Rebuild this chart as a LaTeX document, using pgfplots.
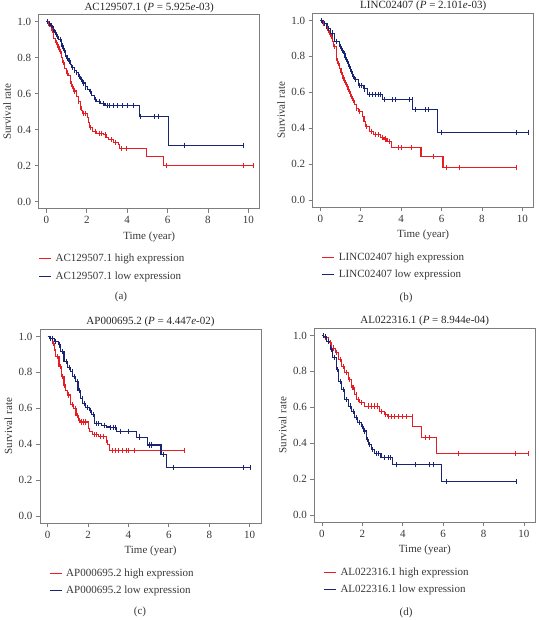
\documentclass[border=0pt]{standalone}
\usepackage{fontspec}
\setmainfont{Liberation Serif}
\usepackage{pgfplots}
\pgfplotsset{compat=1.18}
\definecolor{kmred}{RGB}{230,30,36}
\definecolor{kmblue}{RGB}{26,36,116}
\definecolor{frame}{RGB}{125,125,125}
\definecolor{txt}{RGB}{55,55,55}
\newcommand{\fsz}{\fontsize{11bp}{13bp}\selectfont}
\pgfplotsset{
  kmaxis/.style={
    scale only axis, width=221bp, height=194bp,
    xmin=-0.38, xmax=10.56, ymin=-0.04, ymax=1.04,
    xtick={0,2,4,6,8,10}, ytick={0,0.2,0.4,0.6,0.8,1.0},
    yticklabel style={/pgf/number format/fixed, /pgf/number format/precision=1, /pgf/number format/fixed zerofill},
    /pgf/number format/assume math mode=true,
    tick align=outside, xtick pos=bottom, ytick pos=left,
    major tick length=4bp,
    axis line style={frame, line width=0.8bp},
    every tick/.style={frame, line width=0.8bp},
    tick label style={font=\fsz, text=txt},
    label style={font=\fsz, text=txt},
    xlabel={Time (year)}, ylabel={Survival rate},
    xlabel style={at={(axis description cs:0.5,0)}, anchor=base, yshift=-30.5bp},
    ylabel style={at={(axis description cs:-0.143,0.5)}, anchor=center, rotate=0},
    every axis title/.style={font=\fsz, text=black!85, at={(axis description cs:0.5,1)}, anchor=base, yshift=4.5bp},
    legend style={draw=none, fill=none, font=\fsz, text=txt, anchor=north west, inner xsep=0pt, inner ysep=0pt, row sep=5.5bp,
      nodes={inner xsep=4bp, inner ysep=1.5bp}},
    legend cell align=left,
    clip=false,
  },
  kmline/.style={const plot, line width=1.1bp, no marks},
  kmcens/.style={only marks, mark=|, mark size=2.6bp, mark options={line width=0.7bp}, forget plot},
}
\newcommand{\legred}{\addlegendimage{legend image code/.code={\draw[kmred, line width=1.2bp] (0bp,0bp) -- (12bp,0bp);}}}
\newcommand{\legblue}{\addlegendimage{legend image code/.code={\draw[kmblue, line width=1.2bp] (0bp,0bp) -- (12bp,0bp);}}}
\begin{document}
\begin{tikzpicture}
\path[use as bounding box] (0,0) rectangle (539bp,620bp);
% ---------------- (a)
\begin{axis}[kmaxis, at={(38.7bp,411.3bp)}, anchor=south west,
  title={AC129507.1 (\textit{P} = 5.925\textit{e}-03)},
  legend style={at={(axis description cs:-0.002,-0.225)}}]
\legred
\addlegendentry{AC129507.1 high expression}
\legblue
\addlegendentry{AC129507.1 low expression}
\addplot[kmline, color=kmred, forget plot] coordinates {
(0,1.0) (0.05,0.99) (0.15,0.975) (0.25,0.95) (0.36,0.907) (0.45,0.885) (0.55,0.86) (0.65,0.835) (0.75,0.80) (0.82,0.772) (0.90,0.74) (1.00,0.715) (1.10,0.70) (1.18,0.67) (1.26,0.64) (1.35,0.615) (1.48,0.585) (1.58,0.555) (1.67,0.526) (1.74,0.505) (1.81,0.49) (2.04,0.47) (2.10,0.44) (2.15,0.41) (2.30,0.39) (2.50,0.38) (2.82,0.371) (2.95,0.357) (3.07,0.343) (3.32,0.328) (3.56,0.315) (3.62,0.295) (4.96,0.25) (5.78,0.20) (10.25,0.20)};
\addplot[kmline, color=kmblue, forget plot] coordinates {
(0,1.0) (0.08,0.99) (0.2,0.978) (0.3,0.96) (0.41,0.94) (0.5,0.92) (0.61,0.90) (0.74,0.866) (0.85,0.84) (0.94,0.81) (1.02,0.795) (1.1,0.782) (1.18,0.762) (1.26,0.744) (1.37,0.73) (1.48,0.716) (1.58,0.698) (1.67,0.679) (1.8,0.66) (1.92,0.638) (2.02,0.626) (2.13,0.614) (2.25,0.59) (2.36,0.567) (2.5,0.555) (2.66,0.545) (2.9,0.533) (4.6,0.474) (6.03,0.313) (9.77,0.313)};
\addplot[kmcens, color=kmred] coordinates {
(0.1,0.99) (0.3,0.95) (0.5,0.885) (0.6,0.86) (0.7,0.835) (0.85,0.772) (1.05,0.715) (1.2,0.67) (1.3,0.64) (1.4,0.615) (1.6,0.555) (1.7,0.526) (1.85,0.49) (1.95,0.49) (2.2,0.41) (2.4,0.39) (2.6,0.38) (2.7,0.38) (2.9,0.371) (3.2,0.343) (3.4,0.328) (3.7,0.295) (3.95,0.295) (5.95,0.20) (9.75,0.20) (10.25,0.20)};
\addplot[kmcens, color=kmblue] coordinates {
(0.05,1.0) (0.15,0.99) (0.25,0.978) (0.35,0.96) (0.45,0.94) (0.55,0.92) (0.7,0.90) (0.8,0.866) (0.9,0.84) (1.05,0.795) (1.15,0.782) (1.3,0.744) (1.4,0.73) (1.5,0.716) (1.62,0.698) (1.75,0.679) (1.85,0.66) (1.95,0.638) (2.2,0.614) (2.4,0.567) (2.6,0.555) (2.8,0.545) (3.0,0.533) (3.1,0.533) (3.3,0.533) (3.5,0.533) (3.75,0.533) (4.0,0.533) (4.3,0.533) (4.65,0.474) (5.35,0.474) (5.55,0.474) (6.85,0.313) (9.75,0.313)};
\end{axis}
% ---------------- (b)
\begin{axis}[kmaxis, at={(312.7bp,412.7bp)}, anchor=south west,
  title={LINC02407 (\textit{P} = 2.101\textit{e}-03)},
  legend style={at={(axis description cs:0.04,-0.225)}}]
\legred
\addlegendentry{LINC02407 high expression}
\legblue
\addlegendentry{LINC02407 low expression}
\addplot[kmline, color=kmred, forget plot] coordinates {
(0,1.0) (0.1,0.985) (0.29,0.957) (0.4,0.935) (0.5,0.911) (0.58,0.885) (0.67,0.856) (0.78,0.79) (0.86,0.76) (0.94,0.735) (1.02,0.71) (1.11,0.68) (1.2,0.655) (1.30,0.63) (1.40,0.605) (1.51,0.578) (1.6,0.555) (1.67,0.531) (1.78,0.51) (1.89,0.494) (2.08,0.467) (2.16,0.44) (2.24,0.411) (2.41,0.383) (2.65,0.365) (2.98,0.35) (3.15,0.34) (3.30,0.328) (3.54,0.291) (4.98,0.244) (6.07,0.18) (9.75,0.18)};
\addplot[kmline, color=kmblue, forget plot] coordinates {
(0,1.0) (0.13,0.985) (0.33,0.957) (0.5,0.93) (0.7,0.883) (0.94,0.856) (1.05,0.835) (1.14,0.818) (1.22,0.795) (1.3,0.772) (1.4,0.745) (1.51,0.717) (1.6,0.69) (1.67,0.67) (1.89,0.637) (2.16,0.619) (2.33,0.587) (3.06,0.559) (4.57,0.504) (5.79,0.378) (10.3,0.378)};
\addplot[kmcens, color=kmred] coordinates {
(0.15,0.985) (0.35,0.957) (0.45,0.935) (0.55,0.911) (0.7,0.856) (0.8,0.79) (0.9,0.76) (1.05,0.71) (1.15,0.68) (1.25,0.655) (1.35,0.63) (1.45,0.605) (1.55,0.578) (1.65,0.555) (1.8,0.51) (1.95,0.494) (2.3,0.411) (2.5,0.383) (2.7,0.365) (2.85,0.365) (3.05,0.35) (3.2,0.34) (3.4,0.328) (3.87,0.291) (4.03,0.291) (4.52,0.291) (5.61,0.244) (6.23,0.18) (6.88,0.18) (9.72,0.18)};
\addplot[kmcens, color=kmblue] coordinates {
(0.05,1.0) (0.2,0.985) (0.4,0.957) (0.6,0.93) (0.8,0.883) (1.0,0.856) (1.1,0.835) (1.18,0.818) (1.25,0.795) (1.35,0.772) (1.45,0.745) (1.55,0.717) (1.63,0.69) (1.75,0.67) (1.95,0.637) (2.05,0.637) (2.2,0.619) (2.4,0.587) (2.55,0.587) (2.7,0.587) (2.85,0.587) (2.95,0.587) (3.15,0.559) (3.55,0.559) (3.7,0.559) (4.4,0.559) (4.55,0.559) (4.7,0.504) (5.2,0.504) (5.35,0.504) (5.98,0.378) (9.7,0.378) (10.3,0.378)};
\end{axis}
% ---------------- (c)
\begin{axis}[kmaxis, at={(40bp,96.7bp)}, anchor=south west,
  title={AP000695.2 (\textit{P} = 4.447\textit{e}-02)},
  legend style={at={(axis description cs:0.04,-0.225)}}]
\legred
\addlegendentry{AP000695.2 high expression}
\legblue
\addlegendentry{AP000695.2 low expression}
\addplot[kmline, color=kmred, forget plot] coordinates {
(0,1.0) (0.08,0.99) (0.24,0.963) (0.32,0.925) (0.40,0.888) (0.56,0.832) (0.69,0.776) (0.81,0.73) (0.89,0.70) (0.97,0.674) (1.13,0.621) (1.29,0.599) (1.40,0.562) (1.53,0.534) (1.6,0.524) (2.0,0.49) (2.05,0.472) (2.21,0.453) (2.5,0.444) (2.9,0.412) (2.98,0.397) (3.06,0.366) (6.77,0.366)};
\addplot[kmline, color=kmblue, forget plot] coordinates {
(0,1.0) (0.08,0.99) (0.32,0.972) (0.53,0.953) (0.65,0.916) (0.81,0.86) (0.97,0.826) (1.13,0.804) (1.24,0.776) (1.37,0.748) (1.5,0.701) (1.61,0.655) (1.73,0.627) (1.89,0.603) (2.05,0.59) (2.18,0.565) (2.31,0.515) (2.66,0.506) (2.9,0.496) (3.06,0.493) (3.42,0.472) (4.4,0.44) (4.92,0.396) (5.61,0.343) (5.89,0.27) (10.05,0.27)};
\addplot[kmcens, color=kmred] coordinates {
(0.15,0.99) (0.3,0.963) (0.5,0.888) (0.65,0.832) (0.75,0.776) (0.85,0.73) (1.0,0.674) (1.2,0.621) (1.35,0.599) (1.45,0.562) (1.55,0.534) (1.65,0.524) (1.75,0.524) (1.85,0.524) (2.3,0.453) (2.4,0.453) (2.6,0.444) (2.75,0.444) (2.95,0.412) (3.2,0.366) (3.35,0.366) (3.5,0.366) (3.7,0.366) (3.9,0.366) (4.0,0.366) (4.3,0.366) (6.75,0.366)};
\addplot[kmcens, color=kmblue] coordinates {
(0.15,0.99) (0.25,0.99) (0.4,0.972) (0.6,0.953) (0.75,0.916) (0.9,0.86) (1.05,0.826) (1.2,0.804) (1.3,0.776) (1.45,0.748) (1.55,0.701) (1.7,0.655) (1.8,0.627) (1.95,0.603) (2.1,0.59) (2.25,0.565) (2.4,0.515) (2.5,0.515) (2.8,0.506) (3.1,0.493) (3.25,0.493) (3.35,0.493) (3.6,0.472) (4.0,0.472) (4.55,0.44) (5.05,0.396) (5.15,0.396) (5.75,0.343) (6.2,0.27) (9.7,0.27) (10.05,0.27)};
\end{axis}
% ---------------- (d)
\begin{axis}[kmaxis, at={(314.3bp,97.7bp)}, anchor=south west,
  title={AL022316.1 (\textit{P} = 8.944e-04)},
  legend style={at={(axis description cs:0.04,-0.225)}}]
\legred
\addlegendentry{AL022316.1 high expression}
\legblue
\addlegendentry{AL022316.1 low expression}
\addplot[kmline, color=kmred, forget plot] coordinates {
(0,1.0) (0.08,0.987) (0.32,0.96) (0.49,0.93) (0.65,0.904) (0.81,0.866) (0.97,0.829) (1.13,0.792) (1.3,0.755) (1.46,0.709) (1.62,0.672) (1.73,0.644) (1.86,0.625) (2.11,0.607) (2.84,0.579) (3.08,0.56) (3.24,0.551) (4.5,0.495) (4.91,0.43) (5.67,0.343) (10.21,0.343)};
\addplot[kmline, color=kmblue, forget plot] coordinates {
(0,1.0) (0.08,0.993) (0.24,0.968) (0.41,0.922) (0.53,0.876) (0.7,0.81) (0.81,0.746) (0.97,0.70) (1.13,0.644) (1.3,0.607) (1.46,0.579) (1.62,0.542) (1.78,0.514) (1.94,0.495) (2.06,0.468) (2.19,0.421) (2.3,0.393) (2.43,0.365) (2.59,0.343) (2.92,0.319) (3.49,0.28) (5.92,0.187) (9.64,0.187)};
\addplot[kmcens, color=kmred] coordinates {
(0.15,0.987) (0.4,0.96) (0.55,0.93) (0.7,0.904) (0.9,0.866) (1.05,0.829) (1.2,0.792) (1.35,0.755) (1.5,0.709) (1.55,0.709) (1.7,0.672) (1.8,0.644) (1.95,0.625) (2.3,0.607) (2.45,0.607) (2.6,0.607) (2.75,0.607) (2.95,0.579) (3.15,0.56) (3.3,0.551) (3.45,0.551) (3.6,0.551) (3.8,0.551) (4.0,0.551) (4.2,0.551) (4.45,0.551) (5.1,0.43) (5.3,0.43) (6.73,0.343) (9.56,0.343) (10.2,0.343)};
\addplot[kmcens, color=kmblue] coordinates {
(0.05,1.0) (0.15,0.993) (0.3,0.968) (0.45,0.922) (0.6,0.876) (0.75,0.81) (0.9,0.746) (1.05,0.70) (1.2,0.644) (1.4,0.607) (1.55,0.579) (1.7,0.542) (1.85,0.514) (2.0,0.495) (2.1,0.468) (2.25,0.421) (2.35,0.393) (2.5,0.365) (2.7,0.343) (2.8,0.343) (3.1,0.319) (3.3,0.319) (3.4,0.319) (3.7,0.28) (4.6,0.28) (5.3,0.28) (5.5,0.28) (6.16,0.187) (9.6,0.187)};
\end{axis}
% captions
\node[font=\fsz, text=txt] at (121bp,323bp) {(a)};
\node[font=\fsz, text=txt] at (406bp,322bp) {(b)};
\node[font=\fsz, text=txt] at (140bp,8bp) {(c)};
\node[font=\fsz, text=txt] at (406bp,7bp) {(d)};
\end{tikzpicture}
\end{document}
